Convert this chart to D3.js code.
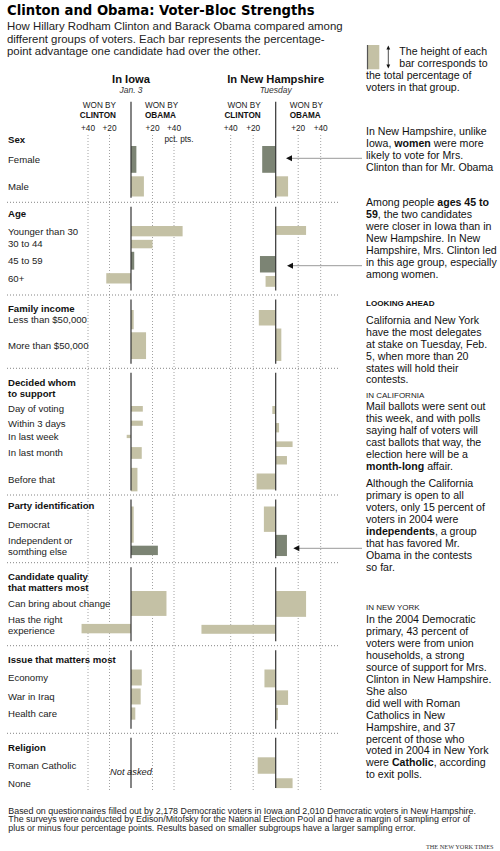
<!DOCTYPE html>
<html><head><meta charset="utf-8">
<script src="https://cdn.jsdelivr.net/npm/d3@7"></script>
<style>
body{margin:0;background:#fff;}
svg{display:block;font-family:"Liberation Sans",Arial,Helvetica,sans-serif;}
</style></head><body>
<svg id="c" width="500" height="851"></svg>
<script>
// ---------- DATA ----------
const sections = ["Sex","Age","Family income","Decided whom|to support","Party identification","Candidate quality|that matters most","Issue that matters most","Religion"];
const rowSection = [0,0,1,1,1,1,2,2,3,3,3,3,3,4,4,5,5,6,6,6,7,7];
const rowLabels = ["Female","Male","Younger than 30","30 to 44","45 to 59","60+","Less than $50,000","More than $50,000","Day of voting","Within 3 days","In last week","In last month","Before that","Democrat","Independent or|somthing else","Can bring about change","Has the right|experience","Economy","War in Iraq","Health care","Roman Catholic","None"];
// margin: positive = Obama advantage, negative = Clinton advantage (pct. pts.)
const iowaMargin = [5,12,48,20,3,-23,2.5,14,11,11,-4,10,6,2.5,25,33,-46,10,9,4,null,null];
// share of voters in group (%), sets bar height
const iowaShare  = [57,43,22,18,38,22,41,57,12,11,7,25,50,77,20,53,20,34,34,26,null,null];
const nhMargin   = [-12,11,27,0,-14,-9,-15,5,-3,3,15,10,-17,-10.5,10,27,-66,-10,11,2,-16,15];
const nhShare    = [57,43,19,30,35,23,33,69,17,20,12,18,34,54,45,55,19,38,31,26,35,21];
const highlighted = ["Female","45 to 59","Independent or|somthing else"];
const tickValues = [-40,-20,20,40];
const tickLabels = ["+40","+20","+20","+40"];

// ---------- LAYOUT ----------
const sectionHeaderY = [140,214,308.3,382.7,505.7,576.7,660,747.3];
const sectionBarTop  = [146,226,310,406,506.5,591,669.5,757.3];
const sectionGap     = [3.5,3.5,3,9,3,8,3,4.5];
const separatorY     = [202.3,295,368.3,495,562.7,645.7,733.3];

const TAN = "#c4c1a5", DARK = "#7c8474";
const svg = d3.select("#c");

const xIowa = d3.scaleLinear().domain([-40,40]).range([88,174]);
const xNH   = d3.scaleLinear().domain([-40,40]).range([230.7,320.7]);
const hScale = d3.scaleLinear().domain([0,100]).range([0,47]);

function stack(shares){
  const out=[]; let cur=0, sec=-1;
  shares.forEach((s,i)=>{
    const k=rowSection[i];
    if(k!==sec){sec=k;cur=sectionBarTop[k];}
    if(s==null){out.push(null);return;}
    const h=hScale(s); out.push({y:cur,h:h}); cur+=h+sectionGap[k];
  });
  return out;
}
const iowaPos = stack(iowaShare), nhPos = stack(nhShare);

// rich text helper: **bold**
function richText(g, str, x, y, size, opts={}){
  const t=g.append("text").attr("x",x).attr("y",y).attr("font-size",size).attr("fill",opts.fill||"#111");
  if(opts.anchor) t.attr("text-anchor",opts.anchor);
  if(opts.weight) t.attr("font-weight",opts.weight);
  if(opts.style) t.attr("font-style",opts.style);
  if(opts.family) t.attr("font-family",opts.family);
  str.split("**").forEach((p,i)=>{ if(p.length) t.append("tspan").attr("font-weight",i%2?"bold":null).text(p); });
  return t;
}

// ---------- TITLE ----------
const title = svg.append("text").attr("x",7).attr("y",15).attr("font-size",14)
  .attr("font-family","'DejaVu Sans',sans-serif").attr("font-weight","bold").attr("fill","#000")
  .text("Clinton and Obama: Voter-Bloc Strengths");
const tl = title.node().getComputedTextLength();
if(tl>0) title.attr("font-size",14*308/tl);
["How Hillary Rodham Clinton and Barack Obama compared among",
 "different groups of voters. Each bar represents the percentage-",
 "point advantage one candidate had over the other."].forEach((l,i)=>
  richText(svg,l,7,30+i*12.5,11.4,{fill:"#222"}));

// ---------- COLUMN HEADERS ----------
[[xIowa,"In Iowa","Jan. 3"],[xNH,"In New Hampshire","Tuesday"]].forEach(([x,name,date])=>{
  const z=x(0);
  richText(svg,name,z,83,11.2,{anchor:"middle",weight:"bold"});
  richText(svg,date,z,92.5,8.5,{anchor:"middle",style:"italic",fill:"#333"});
  richText(svg,"WON BY",z-15,108,8.2,{anchor:"end",fill:"#222"});
  richText(svg,"CLINTON",z-15,117.5,8.2,{anchor:"end",weight:"bold"});
  richText(svg,"WON BY",z+14,108,8.2,{fill:"#222"});
  richText(svg,"OBAMA",z+14,117.5,8.2,{weight:"bold"});
  tickValues.forEach((v,i)=>{
    richText(svg,tickLabels[i],x(v),131.3,8.3,{anchor:"middle",fill:"#222"});
    svg.append("line").attr("x1",x(v)).attr("x2",x(v)).attr("y1",135).attr("y2",790)
      .attr("stroke","#8a8a8a").attr("stroke-width",0.8).attr("stroke-dasharray","1,2");
  });
});
richText(svg,"pct. pts.",xIowa(40)-9.5,142,8.3,{fill:"#222"});

// ---------- SEPARATORS & ZERO LINES ----------
separatorY.forEach(y=>svg.append("line").attr("x1",7).attr("x2",340).attr("y1",y).attr("y2",y)
  .attr("stroke","#777").attr("stroke-width",0.9).attr("stroke-dasharray","1,2"));
const segStarts=[101.7].concat(separatorY.map(y=>y+4.5));
const segEnds=separatorY.map(y=>y-4.5).concat([788]);

// ---------- SECTION HEADERS & ROW LABELS ----------
sections.forEach((s,k)=>s.split("|").forEach((l,j)=>
  richText(svg,l,8,sectionHeaderY[k]+3.4+j*10.4,9.6,{weight:"bold"})));
rowLabels.forEach((lab,i)=>{
  const p=iowaPos[i]||nhPos[i];
  const c=p.y+p.h/2;
  const lines=lab.split("|");
  lines.forEach((l,j)=>{
    const y = lines.length===1 ? c+3.4 : c-9.5+3.4+j*11;
    richText(svg,l,8,y,9.6,{fill:"#222"});
  });
});

// ---------- BARS ----------
function drawBars(x, margins, pos){
  svg.append("g").selectAll("rect").data(margins.map((m,i)=>({m,i,p:pos[i]})).filter(d=>d.m!=null))
    .join("rect")
    .attr("x",d=>Math.min(x(0),x(d.m)))
    .attr("width",d=>Math.abs(x(d.m)-x(0)))
    .attr("y",d=>d.p.y).attr("height",d=>d.p.h)
    .attr("fill",d=>highlighted.includes(rowLabels[d.i])?DARK:TAN);
}
drawBars(xIowa,iowaMargin,iowaPos);
drawBars(xNH,nhMargin,nhPos);
[xIowa,xNH].forEach(x=>segStarts.forEach((s,i)=>svg.append("line")
  .attr("x1",x(0)).attr("x2",x(0)).attr("y1",s).attr("y2",segEnds[i])
  .attr("stroke","#333").attr("stroke-width",1.2)));
richText(svg,"Not asked",xIowa(0),775,9.3,{anchor:"middle",style:"italic",fill:"#222"});

// ---------- LEGEND ----------
svg.append("rect").attr("x",367).attr("y",45).attr("width",12.3).attr("height",24.3).attr("fill",TAN);
svg.append("line").attr("x1",367.5).attr("x2",367.5).attr("y1",45).attr("y2",69.3).attr("stroke","#555").attr("stroke-width",1.2);
svg.append("line").attr("x1",388.3).attr("x2",388.3).attr("y1",48).attr("y2",66).attr("stroke","#222").attr("stroke-width",0.8);
svg.append("path").attr("d","M388.3,45.5 L386.4,49.5 L390.2,49.5 Z M388.3,68.5 L386.4,64.5 L390.2,64.5 Z").attr("fill","#111");
const annSize=10.6;
richText(svg,"The height of each",399.3,55.4,annSize);
richText(svg,"bar corresponds to",399.3,67,annSize);
richText(svg,"the total percentage of",366,79.2,annSize);
richText(svg,"voters in that group.",366,91,annSize);

// ---------- ANNOTATIONS ----------
const annBlocks = [
  {y:131.7, lines:["In New Hampshire, unlike","Iowa, **women** were more","likely to vote for Mrs.","Clinton than for Mr. Obama"]},
  {y:202.3, lines:["Among people **ages 45 to**","**59**, the two candidates","were closer in Iowa than in","New Hampshire. In New","Hampshire, Mrs. Clinton led","in this age group, especially","among women."]},
  {y:320, lines:["California and New York","have the most delegates","at stake on Tuesday, Feb.","5, when more than 20","states will hold their","contests."]},
  {y:406.7, lines:["Mail ballots were sent out","this week, and with polls","saying half of voters will","cast ballots that way, the","election here will be a","**month-long** affair."]},
  {y:483.3, lines:["Although the California","primary is open to all","voters, only 15 percent of","voters in 2004 were","**independents**, a group","that has favored Mr.","Obama in the contests","so far."]},
  {y:619.3, lines:["In the 2004 Democratic","primary, 43 percent of","voters were from union","households, a strong","source of support for Mrs.","Clinton in New Hampshire.","She also","did well with Roman","Catholics in New","Hampshire, and 37","percent of those who","voted in 2004 in New York","were **Catholic**, according","to exit polls."]}
];
annBlocks.forEach(b=>b.lines.forEach((l,j)=>richText(svg,l,366,b.y+3.7+j*11.95,annSize)));
richText(svg,"LOOKING AHEAD",366,306.3,8.1,{weight:"bold"});
richText(svg,"IN CALIFORNIA",366,398,8,{fill:"#222"});
richText(svg,"IN NEW YORK",366,609.7,8,{fill:"#222"});

// arrows
const arrows=[{tip:286,y:158.3},{tip:287,y:265.7},{tip:293.3,y:548.3}];
arrows.forEach(a=>{
  svg.append("line").attr("x1",a.tip+4).attr("x2",362).attr("y1",a.y).attr("y2",a.y).attr("stroke","#999").attr("stroke-width",1);
  svg.append("path").attr("d",`M${a.tip},${a.y} L${a.tip+6},${a.y-3} L${a.tip+6},${a.y+3} Z`).attr("fill","#111");
});

// ---------- FOOTER ----------
["Based on questionnaires filled out by 2,178 Democratic voters in Iowa and 2,010 Democratic voters in New Hampshire.",
 "The surveys were conducted by Edison/Mitofsky for the National Election Pool and have a margin of sampling error of",
 "plus or minus four percentage points. Results based on smaller subgroups have a larger sampling error."].forEach((l,i)=>
  richText(svg,l,8.3,813.5+i*8.6,8.9,{fill:"#222"}));
richText(svg,"THE NEW YORK TIMES",493.5,849,6.3,{anchor:"end",family:"'Liberation Serif',serif",fill:"#333"});
</script>
</body></html>
